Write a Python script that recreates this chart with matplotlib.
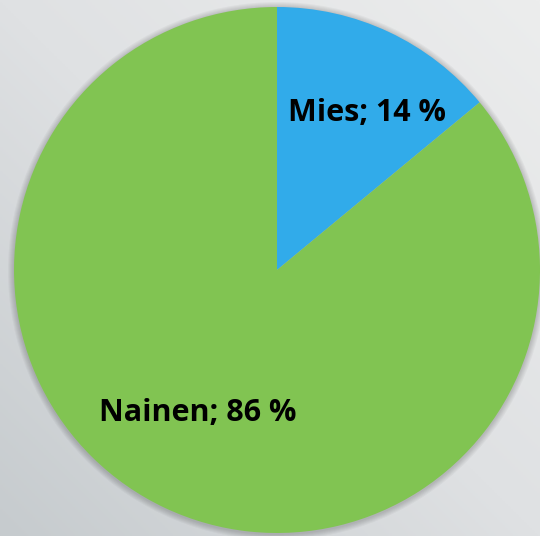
import matplotlib.pyplot as plt
import matplotlib.patches as mpatches
from matplotlib.colors import LinearSegmentedColormap
import numpy as np

categories = ['Mies', 'Nainen']
values = [14, 86]
colors = ['#31abea', '#81c452']


def plot_pie():
    fig = plt.figure(figsize=(5.4, 5.36), dpi=100)
    ax = fig.add_axes([0, 0, 1, 1])

    # harmaa liukuväritausta
    bg = LinearSegmentedColormap.from_list('bg', ['#c6cbce', '#dfe1e3', '#eceded'])
    yy, xx = np.mgrid[0:1:200j, 0:1:200j]
    grad = 0.5 * xx + 0.5 * (1 - yy)
    ax.imshow(grad, cmap=bg, vmin=0, vmax=1, extent=[0, 540, 0, 536],
              origin='upper', aspect='auto', zorder=0)

    cx, cy, r = 277, 266, 263
    # pehmeä varjo
    for i in range(6):
        ax.add_patch(mpatches.Circle((cx, cy - 1), r + 1 + i, color='black',
                                     alpha=0.03, lw=0, zorder=1))

    labels = [f'{c}; {v} %' for c, v in zip(categories, values)]
    wedges, texts = ax.pie(values, labels=labels, colors=colors, startangle=90,
                           counterclock=False, center=(cx, cy), radius=r,
                           labeldistance=0.66, frame=True,
                           textprops=dict(fontsize=22, fontweight='bold',
                                          family='Open Sans', ha='center'))
    # pieni siirto otsikoille
    offsets = [(16, 0), (-5, 14)]
    for t, (dx, dy) in zip(texts, offsets):
        x, y = t.get_position()
        t.set_position((x + dx, y + dy))
        t.set_zorder(3)
    for w in wedges:
        w.set_zorder(2)
    ax.set_xlim(0, 540)
    ax.set_ylim(0, 536)
    ax.set_aspect('auto')
    ax.axis('off')
    fig.savefig('out.png', dpi=100)


def main():
    plot_pie()


if __name__ == '__main__':
    main()
